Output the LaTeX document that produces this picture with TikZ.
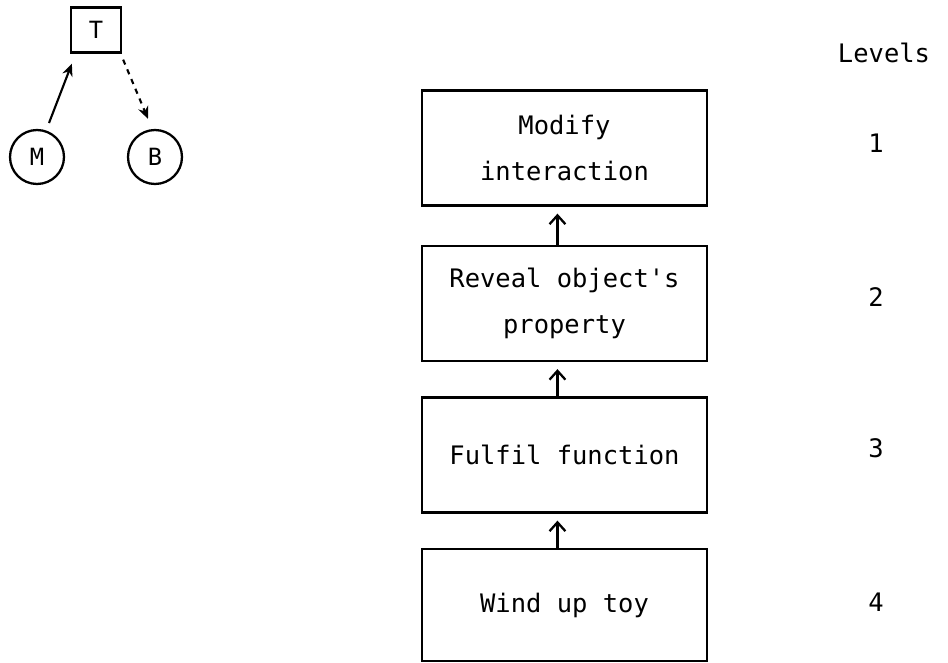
\documentclass[tikz,border=0pt]{standalone}
\usepackage{fontspec}
\setmonofont{DejaVu Sans Mono}
\usetikzlibrary{arrows.meta}

\begin{document}
\begin{tikzpicture}[
  x=0.02cm, y=-0.02cm,
  every node/.style={font=\ttfamily\fontsize{14.5}{17}\selectfont, inner sep=0pt},
  levelbox/.style={draw, line width=1.3pt, minimum width=5.7cm, minimum height=2.3cm, align=center},
  small/.style={draw, line width=1.3pt, font=\ttfamily\fontsize{13.5}{16}\selectfont},
  arrow/.style={-{Straight Barb[length=5pt,width=9pt]}, line width=1.3pt, shorten >=4pt},
  link/.style={-{Stealth[length=7pt,width=6pt]}, line width=1.2pt}
]
\useasboundingbox (0,0) rectangle (948,663);
% small diagram
\node[small, minimum width=1cm, minimum height=0.9cm] (t) at (96,30) {T};
\node[small, circle, minimum size=1.08cm] (m) at (37,157) {M};
\node[small, circle, minimum size=1.08cm] (b) at (155,157) {B};
\draw[link] ([shift={(12,-34)}]m.center) -- ([shift={(2,10)}]t.south west);
\draw[link, dashed] ([shift={(1,6)}]t.south east) -- ([shift={(-7,-10)}]b.north);
% levels
\node[levelbox] (b1) at (564.5,148) {Modify\\[9pt]interaction};
\node[levelbox] (b2) at (564.5,303.5) {Reveal object's\\[9pt]property};
\node[levelbox] (b3) at (564.5,455) {Fulfil function};
\node[levelbox, minimum height=2.24cm] (b4) at (564.5,605) {Wind up toy};
\draw[arrow] ([xshift=-4]b2.north) -- ([xshift=-4]b1.south);
\draw[arrow] ([xshift=-4]b3.north) -- ([xshift=-4]b2.south);
\draw[arrow] ([xshift=-4]b4.north) -- ([xshift=-4]b3.south);
\node (levels) at (884,53) {Levels};
\node (n1) at (876,143) {1};
\node (n2) at (876,297) {2};
\node (n3) at (876,448) {3};
\node (n4) at (876,602) {4};
\end{tikzpicture}
\end{document}
